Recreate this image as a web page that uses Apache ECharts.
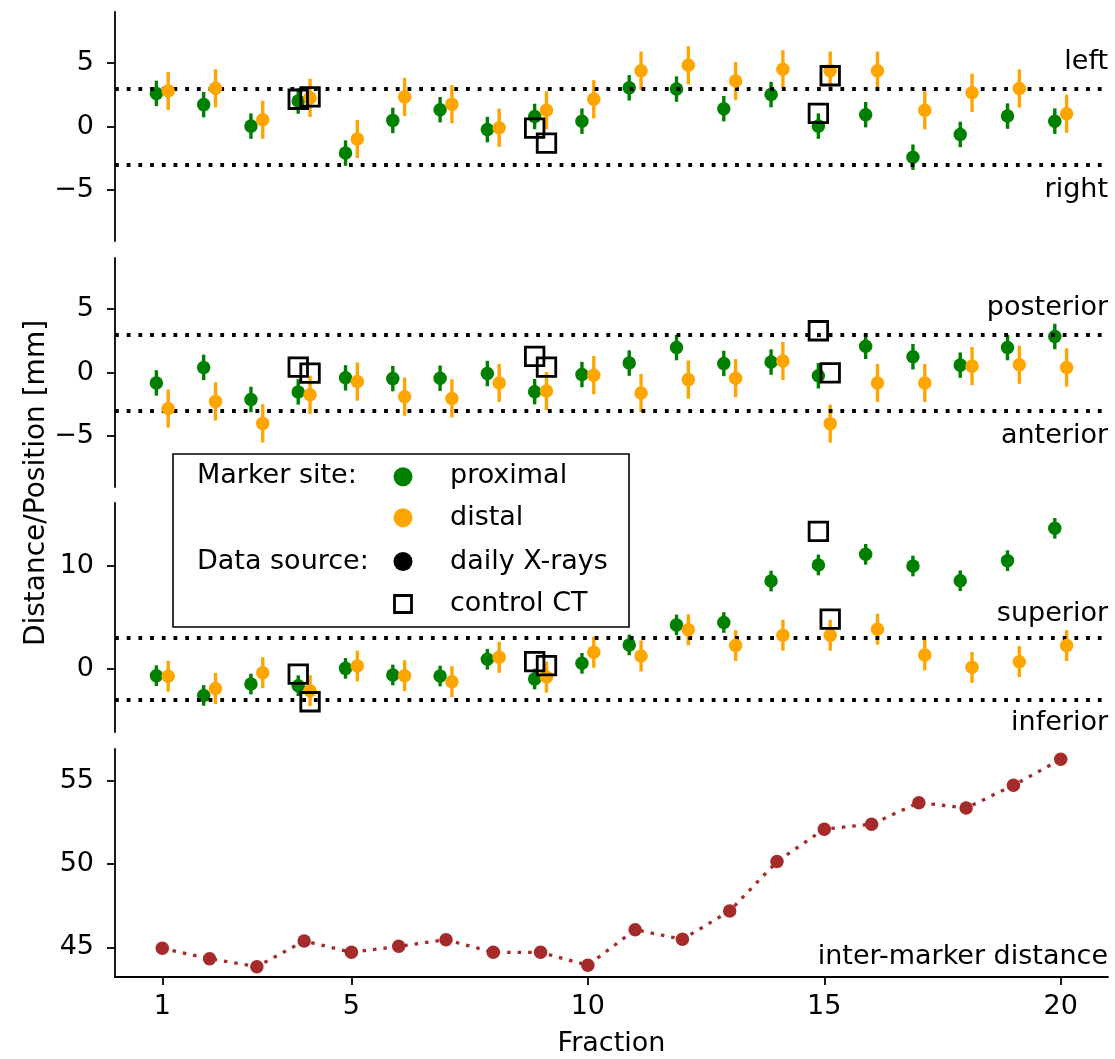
<!DOCTYPE html>
<html><head><meta charset="utf-8">
<script src="https://cdn.jsdelivr.net/npm/echarts@6/dist/echarts.min.js"></script>
<style>html,body{margin:0;padding:0;background:#fff}#c{width:1115px;height:1059px}</style>
</head><body><div id="c"></div>
<script>
// ---------- data ----------
const fractions = [1,2,3,4,5,6,7,8,9,10,11,12,13,14,15,16,17,18,19,20];
const ctFractions = [4, 9, 15];
const errProx = [1.0,1.0,1.0,1.0,1.0,1.0,1.0,1.0,1.0,1.0,1.0,1.0,1.0,1.0,1.0,1.0,1.0,1.0,1.0,1.0];
const errDist = [1.5,1.5,1.5,1.5,1.5,1.5,1.5,1.5,1.5,1.5,1.5,1.5,1.5,1.5,1.5,1.5,1.5,1.5,1.5,1.5];

const lrProx = [2.6, 1.72, 0.03, 2.0, -2.09, 0.48, 1.32, -0.24, 0.79, 0.42, 3.04, 2.94, 1.40, 2.51, 0.03, 0.93, -2.41, -0.63, 0.82, 0.42];
const lrDist = [2.8, 3.0, 0.53, 2.25, -0.98, 2.33, 1.75, -0.1, 1.27, 2.14, 4.39, 4.81, 3.57, 4.5, 4.39, 4.39, 1.27, 2.65, 2.99, 1.0];
const lrCTProx = [2.14, -0.13, 1.03];
const lrCTDist = [2.33, -1.3, 3.99];

const apProx = [-0.82, 0.4, -2.12, -1.53, -0.42, -0.48, -0.45, -0.08, -1.51, -0.16, 0.74, 1.96, 0.71, 0.82, -0.26, 2.06, 1.24, 0.58, 1.96, 2.83];
const apDist = [-2.83, -2.27, -4.0, -1.75, -0.71, -1.9, -2.04, -0.82, -1.46, -0.21, -1.61, -0.56, -0.45, 0.9, -4.02, -0.82, -0.82, 0.5, 0.61, 0.4];
const apCTProx = [0.42, 1.27, 3.28];
const apCTDist = [-0.05, 0.42, -0.03];

const siProx = [-0.65, -2.56, -1.46, -1.62, 0.06, -0.58, -0.68, 0.94, -0.97, 0.55, 2.33, 4.27, 4.5, 8.51, 10.07, 11.1, 9.97, 8.54, 10.49, 13.62];
const siDist = [-0.7, -1.88, -0.36, -2.1, 0.29, -0.65, -1.23, 1.13, -0.78, 1.62, 1.26, 3.79, 2.27, 3.27, 3.27, 3.85, 1.36, 0.16, 0.71, 2.27];
const siCTProx = [-0.49, 0.71, 13.33];
const siCTDist = [-3.17, 0.32, 4.82];

const interMarker = [44.94, 44.32, 43.84, 45.38, 44.7, 45.06, 45.46, 44.7, 44.7, 43.92, 46.06, 45.48, 47.18, 50.15, 52.09, 52.39, 53.68, 53.36, 54.72, 56.28];

const xTicks = [1, 5, 10, 15, 20];
const yTicksPos = [-5, 0, 5];
const yTicksSI = [0, 10];
const yTicksDist = [45, 50, 55];
const tolerance = [3, -3];
const dirLabels = [['left','right'],['posterior','anterior'],['superior','inferior']];

// ---------- style ----------
const FONT = 'DejaVu Sans';
const FS = 27;
const GREEN = '#008000', ORANGE = '#ffa500', BROWN = '#a52a2a';
const OFF = 0.125;
const gridLeft = 115, gridW = 993;
const tops = [12, 258, 503, 749];
const hts = [229, 229, 229, 228];
const yRanges = [[-9, 9], [-9, 9], [-6.1, 16.07], [43.22, 56.9]];
const yTicks = [yTicksPos, yTicksPos, yTicksSI, yTicksDist];

const fmt = v => String(v).replace('-', '\u2212');

const grids = [], xAxes = [], yAxes = [], series = [];
for (let i = 0; i < 4; i++) {
  grids.push({left: gridLeft, top: tops[i], width: gridW, height: hts[i], containLabel: false});
  const last = i === 3;
  xAxes.push({
    type: 'value', gridIndex: i, min: 0, max: 21, show: last,
    axisLine: {show: last, onZero: false, lineStyle: {color: '#000', width: 1.8}},
    axisTick: {show: last, length: 8, lineStyle: {color: '#000', width: 1.8}, customValues: xTicks},
    axisLabel: {show: last, margin: 16, color: '#000', fontFamily: FONT, fontSize: FS, customValues: xTicks},
    splitLine: {show: false}
  });
  yAxes.push({
    type: 'value', gridIndex: i, min: yRanges[i][0], max: yRanges[i][1],
    axisLine: {show: true, onZero: false, lineStyle: {color: '#000', width: 1.8}},
    axisTick: {show: true, length: 8, lineStyle: {color: '#000', width: 1.8}, customValues: yTicks[i]},
    axisLabel: {show: true, margin: 21, color: '#000', fontFamily: FONT, fontSize: FS, customValues: yTicks[i], formatter: fmt},
    splitLine: {show: false}
  });
}

function errSeries(i, vals, errs, color, z, withLines) {
  const s = {
    type: 'custom', xAxisIndex: i, yAxisIndex: i, z: z, silent: true,
    data: fractions.map((f, k) => [f + (color === GREEN ? -OFF : OFF), vals[k], errs[k]]),
    encode: {x: 0, y: 1},
    renderItem: (params, api) => {
      const x = api.value(0), y = api.value(1), e = api.value(2);
      const p1 = api.coord([x, y - e]), p2 = api.coord([x, y + e]);
      return {type: 'line', shape: {x1: p1[0], y1: p1[1], x2: p2[0], y2: p2[1]},
              style: {stroke: color, lineWidth: 3.4}};
    }
  };
  if (withLines) {
    s.markLine = {silent: true, symbol: 'none', label: {show: false}, animation: false,
      lineStyle: {color: '#000', width: 3.8, type: [3.8, 7.9], opacity: 1},
      emphasis: {disabled: true},
      data: tolerance.map(t => ({yAxis: t}))};
  }
  return s;
}
function ptSeries(i, vals, color, z) {
  return {type: 'scatter', xAxisIndex: i, yAxisIndex: i, z: z, silent: true,
    symbol: 'circle', symbolSize: 13.5, itemStyle: {color: color, opacity: 1},
    data: fractions.map((f, k) => [f + (color === GREEN ? -OFF : OFF), vals[k]])};
}
function ctSeries(i, vals, dx) {
  return {type: 'scatter', xAxisIndex: i, yAxisIndex: i, z: 8, silent: true,
    symbol: 'rect', symbolSize: 18.5,
    itemStyle: {color: 'rgba(0,0,0,0)', borderColor: '#000', borderWidth: 2.8, opacity: 1},
    data: ctFractions.map((f, k) => [f + dx, vals[k]])};
}
const panels = [
  [lrProx, lrDist, lrCTProx, lrCTDist],
  [apProx, apDist, apCTProx, apCTDist],
  [siProx, siDist, siCTProx, siCTDist]
];
panels.forEach((p, i) => {
  series.push(errSeries(i, p[0], errProx, GREEN, 2, true));
  series.push(ptSeries(i, p[0], GREEN, 3));
  series.push(errSeries(i, p[1], errDist, ORANGE, 4, false));
  series.push(ptSeries(i, p[1], ORANGE, 5));
  series.push(ctSeries(i, p[2], -OFF));
  series.push(ctSeries(i, p[3], OFF));
});
series.push({type: 'line', xAxisIndex: 3, yAxisIndex: 3, silent: true,
  symbol: 'circle', symbolSize: 13.5, showSymbol: true,
  itemStyle: {color: BROWN}, lineStyle: {color: BROWN, width: 3.3, type: [3.5, 7]},
  data: fractions.map((f, k) => [f, interMarker[k]])});

const chart = echarts.init(document.getElementById('c'), null, {renderer: 'canvas'});
chart.setOption({animation: false, backgroundColor: '#fff',
  grid: grids, xAxis: xAxes, yAxis: yAxes, series: series});

// ---------- annotations ----------
const txt = (x, y, text, align, extra, fs) => Object.assign({type: 'text', x: x, y: y, z: 100,
  style: {text: text, fill: '#000', font: (fs || FS) + 'px "' + FONT + '"', align: align, verticalAlign: 'middle'}}, extra || {});
const g = [];
dirLabels.forEach((lab, i) => {
  const up = chart.convertToPixel({gridIndex: i}, [21, 4]);
  const dn = chart.convertToPixel({gridIndex: i}, [21, -4]);
  g.push(txt(up[0], up[1] - 14, lab[0], 'right'));
  g.push(txt(dn[0], dn[1] + 13, lab[1], 'right'));
});
const im = chart.convertToPixel({gridIndex: 3}, [21, yRanges[3][0]]);
g.push(txt(im[0], im[1] - 20, 'inter-marker distance', 'right'));
const fx = chart.convertToPixel({gridIndex: 3}, [10.5, yRanges[3][0]]);
g.push(txt(fx[0], fx[1] + 66.5, 'Fraction', 'center'));
g.push(txt(37, 483, 'Distance/Position [mm]', 'center', {rotation: Math.PI / 2}, 28));
// legend box
g.push({type: 'rect', z: 90, shape: {x: 173, y: 454, width: 456, height: 173},
  style: {fill: '#fff', stroke: '#000', lineWidth: 1.6}});
const rows = [475.5, 518, 562, 604];
g.push(txt(197, rows[0], 'Marker site:', 'left'));
g.push({type: 'circle', z: 100, shape: {cx: 403, cy: 476.7, r: 9.5}, style: {fill: GREEN}});
g.push(txt(450, rows[0], 'proximal', 'left'));
g.push({type: 'circle', z: 100, shape: {cx: 403, cy: 517.7, r: 9.5}, style: {fill: ORANGE}});
g.push(txt(450, rows[1], 'distal', 'left'));
g.push(txt(197, rows[2], 'Data source:', 'left'));
g.push({type: 'circle', z: 100, shape: {cx: 403, cy: 561.5, r: 9.5}, style: {fill: '#000'}});
g.push(txt(450, rows[2], 'daily X-rays', 'left'));
g.push({type: 'rect', z: 100, shape: {x: 394.5, y: 595.5, width: 17, height: 17}, style: {fill: 'none', stroke: '#000', lineWidth: 2.8}});
g.push(txt(450, rows[3], 'control CT', 'left'));
chart.setOption({graphic: g});
</script>
</body></html>
